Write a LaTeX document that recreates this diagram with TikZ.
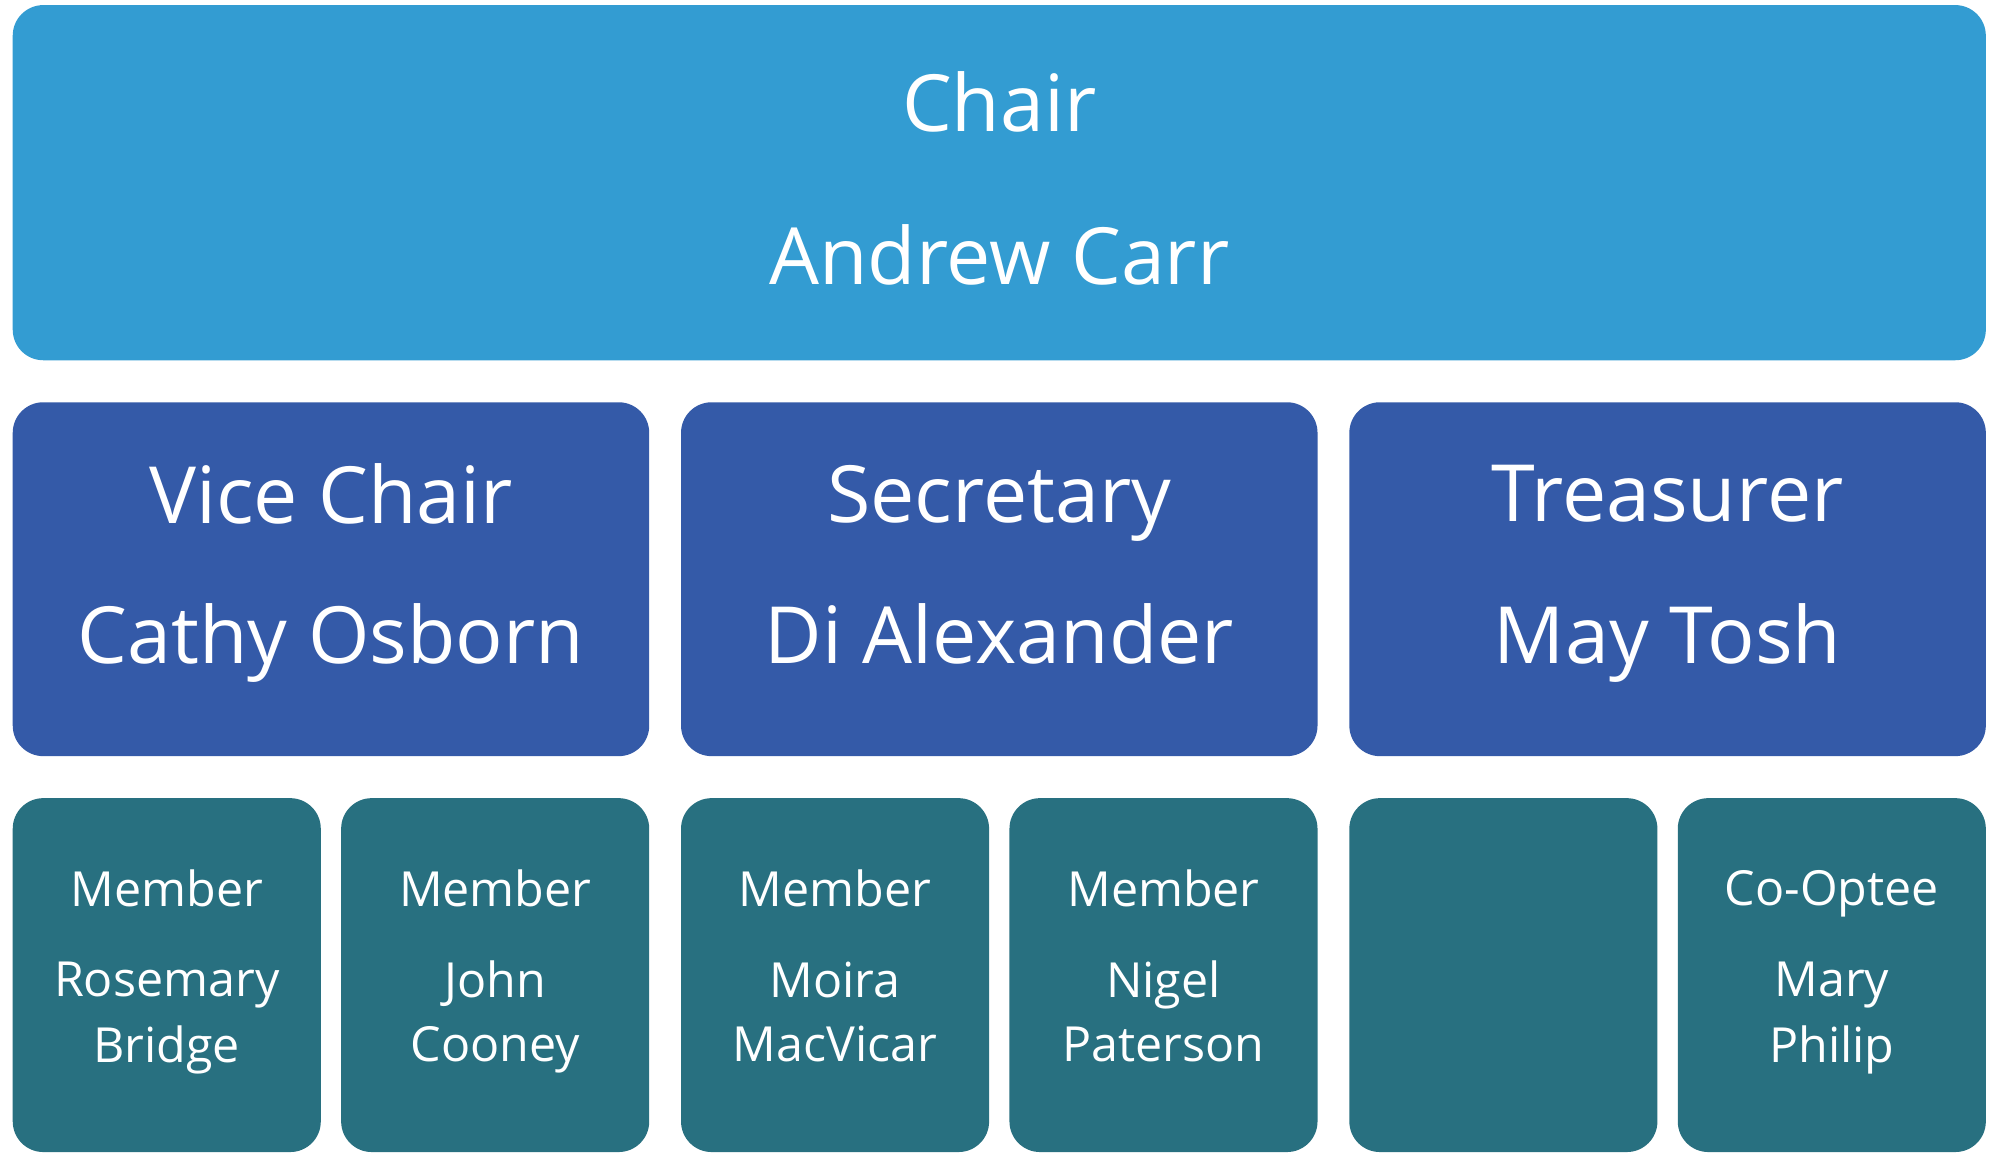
\documentclass[tikz,border=0pt]{standalone}
\usepackage{fontspec}
\setmainfont{Open Sans}
\definecolor{cA}{HTML}{339CD2}
\definecolor{cB}{HTML}{345AA8}
\definecolor{cC}{HTML}{287080}
\begin{document}
\begin{tikzpicture}[x=1pt,y=-1pt,
  box/.style={rounded corners=24pt,draw=none,inner sep=0pt},
  big/.style={text=white,font=\fontsize{62}{62}\selectfont,inner sep=0pt},
  small/.style={text=white,font=\fontsize{38}{38}\selectfont,inner sep=0pt}]
\useasboundingbox (0,0) rectangle (1568,910);
\fill[white] (0,0) rectangle (1568,910);
\fill[box,cA] (10,4) rectangle (1560,283);
\node[big] (c1) at (785,80) {Chair};
\node[big] (c2) at (785,200) {Andrew Carr};
\foreach \x/\a/\b [count=\i] in {10/Vice Chair/Cathy Osborn,535/Secretary/Di Alexander,1060/Treasurer/May Tosh}{
  \fill[box,cB] (\x,316) rectangle ({\x+500},594);
  \node[big] (r\i a) at ({\x+250},397) {\strut\a};
  \node[big] (r\i b) at ({\x+250},507) {\strut\b};
}
\foreach \x/\a/\b/\c [count=\i] in {10/Member/Rosemary/Bridge,268/Member/John/Cooney,535/Member/Moira/MacVicar,793/Member/Nigel/Paterson,1060/{}/{}/{},1318/Co-Optee/Mary/Philip}{
  \fill[box,cC] (\x,627) rectangle ({\x+242},905);
  \node[small] (m\i a) at ({\x+121},703) {\strut\a};
  \node[small] (m\i b) at ({\x+121},775) {\strut\b};
  \node[small] (m\i c) at ({\x+121},826) {\strut\c};
}
\end{tikzpicture}
\end{document}
